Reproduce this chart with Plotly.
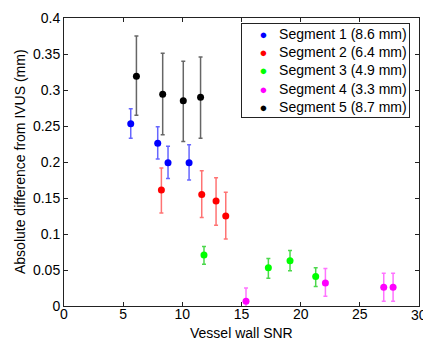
import plotly.graph_objects as go

labels = ["Segment 1 (8.6 mm)", "Segment 2 (6.4 mm)", "Segment 3 (4.9 mm)",
          "Segment 4 (3.3 mm)", "Segment 5 (8.7 mm)"]

seg1_x = [5.64, 7.92, 8.79, 10.57]
seg1_y = [0.253, 0.226, 0.199, 0.199]
seg1_hi = [0.274, 0.249, 0.222, 0.224]
seg1_lo = [0.233, 0.204, 0.177, 0.175]

seg2_x = [8.23, 11.64, 12.85, 13.67]
seg2_y = [0.161, 0.155, 0.146, 0.125]
seg2_hi = [0.1915, 0.188, 0.178, 0.158]
seg2_lo = [0.129, 0.123, 0.112, 0.093]

seg3_x = [11.83, 17.27, 19.10, 21.27]
seg3_y = [0.071, 0.053, 0.063, 0.041]
seg3_hi = [0.0825, 0.066, 0.077, 0.053]
seg3_lo = [0.058, 0.0385, 0.049, 0.027]

seg4_x = [15.38, 22.09, 27.02, 27.81]
seg4_y = [0.0065, 0.032, 0.026, 0.026]
seg4_hi = [0.025, 0.052, 0.0455, 0.0455]
seg4_lo = [-0.012, 0.0135, 0.0065, 0.0065]

seg5_x = [6.12, 8.34, 10.08, 11.54]
seg5_y = [0.319, 0.294, 0.285, 0.290]
seg5_hi = [0.375, 0.351, 0.340, 0.346]
seg5_lo = [0.265, 0.238, 0.2285, 0.233]

colors = ["#0000ff", "#ff0000", "#00ff00", "#ff00ff", "#000000"]
err_colors = ["rgba(0,0,255,0.6)", "rgba(255,0,0,0.55)", "rgba(0,200,0,0.7)",
              "rgba(255,0,255,0.55)", "rgba(0,0,0,0.6)"]

series = [(seg1_x, seg1_y, seg1_hi, seg1_lo), (seg2_x, seg2_y, seg2_hi, seg2_lo),
          (seg3_x, seg3_y, seg3_hi, seg3_lo), (seg4_x, seg4_y, seg4_hi, seg4_lo),
          (seg5_x, seg5_y, seg5_hi, seg5_lo)]

FONT = "Liberation Sans, Arial, sans-serif"

fig = go.Figure()
for (x, y, hi, lo), name, c, ec in zip(series, labels, colors, err_colors):
    fig.add_trace(go.Scatter(
        x=x, y=y, mode="markers", name=name, showlegend=False,
        marker=dict(color=c, size=7, line=dict(width=0)),
        error_y=dict(type="data", symmetric=False,
                     array=[h - v for h, v in zip(hi, y)],
                     arrayminus=[v - l for l, v in zip(lo, y)],
                     color=ec, thickness=1.5, width=2),
    ))

axis_common = dict(showgrid=False, zeroline=False, showline=True, linecolor="#222",
                   linewidth=1, mirror="allticks", ticks="inside", ticklen=4,
                   tickcolor="#222", tickfont=dict(size=14, color="black", family=FONT),
                   automargin=False)

legend_lines = []
for name, c in zip(labels, colors):
    legend_lines.append(
        "&nbsp;&nbsp;&nbsp;&nbsp;<span style='color:%s;font-size:13px'>●</span>"
        "&nbsp;&nbsp;&nbsp;%s" % (c, name))
legend_text = "<br>".join(legend_lines)

fig.update_layout(
    width=423, height=339,
    margin=dict(l=64, r=4, t=18, b=33),
    paper_bgcolor="white", plot_bgcolor="white",
    font=dict(family=FONT, size=14, color="black"),
    showlegend=False,
    xaxis=dict(range=[0, 30], dtick=5, tick0=0, ticklabelstandoff=-5, **axis_common),
    yaxis=dict(range=[0, 0.4], dtick=0.05, tick0=0, **axis_common),
    annotations=[
        dict(text="Vessel wall SNR", xref="paper", yref="paper", x=0.5, y=0,
             xanchor="center", yanchor="middle", yshift=-27, showarrow=False,
             font=dict(size=14, family=FONT, color="black")),
        dict(text="Absolute difference from IVUS (mm)", xref="paper", yref="paper",
             x=0, y=0.5, xanchor="center", yanchor="middle", xshift=-44,
             textangle=-90, showarrow=False,
             font=dict(size=14, family=FONT, color="black")),
        dict(text="30", xref="x", yref="paper", x=30, y=0, xanchor="center",
             yanchor="middle", yshift=-9, showarrow=False,
             font=dict(size=14, family=FONT, color="black")),
        dict(text=legend_text, xref="paper", yref="paper", x=0.4977, y=0.9816,
             xanchor="left", yanchor="top", align="left", showarrow=False,
             bgcolor="white", bordercolor="#222", borderwidth=1, borderpad=2,
             font=dict(size=14, family=FONT, color="black")),
    ],
)

fig.write_html("out.html", config={"displayModeBar": False},
               post_script="document.body.style.margin='0';document.body.style.padding='0';")
